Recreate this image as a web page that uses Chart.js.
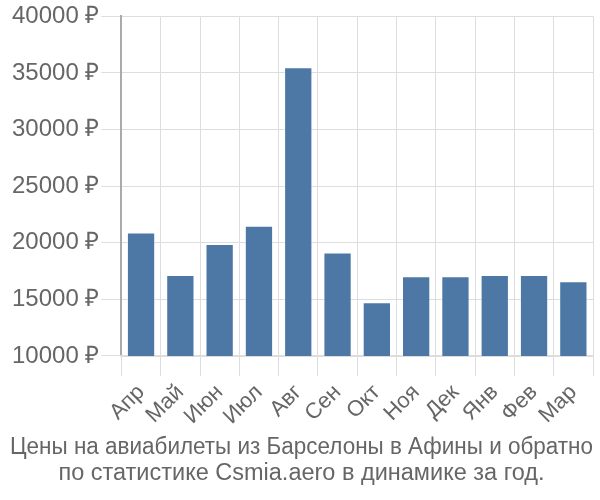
<!DOCTYPE html>
<html>
<head>
<meta charset="utf-8">
<script src="https://cdn.jsdelivr.net/npm/chart.js@4"></script>
<style>
    body { margin: 0; background: #fff; }
    #wrap { width: 600px; height: 500px; }
</style>
</head>
<body>
<div id="wrap"><canvas id="chart"></canvas></div>
<script>
const months = ["Апр", "Май", "Июн", "Июл", "Авг", "Сен", "Окт", "Ноя", "Дек", "Янв", "Фев", "Мар"];
const prices = [20900, 17150, 19900, 21500, 35500, 19150, 14750, 17050, 17050, 17150, 17150, 16600];
const yTicks = [10000, 15000, 20000, 25000, 30000, 35000, 40000];
const titleLines = ["Цены на авиабилеты из Барселоны в Афины и обратно", "по статистике Csmia.aero в динамике за год."];

const textColor = "#666";
const gridColor = "#ddd";
const fontFamily = "'Liberation Sans', Arial, sans-serif";

const ctx = document.getElementById("chart").getContext("2d");
new Chart(ctx, {
    type: "bar",
    data: {
        labels: months,
        datasets: [{
            data: prices,
            backgroundColor: "#4d78a6",
            borderColor: "rgba(255,255,255,0.45)",
            borderWidth: 1
        }]
    },
    options: {
        responsive: true,
        maintainAspectRatio: false,
        animation: false,
        layout: { padding: { top: 5, right: 7, left: 10, bottom: 14 } },
        plugins: {
            legend: { display: false },
            tooltip: { enabled: false },
            title: {
                display: true,
                position: "bottom",
                text: titleLines,
                color: textColor,
                font: { family: fontFamily, size: 23.5, weight: "normal", lineHeight: 1.08 },
                padding: { top: 2, bottom: 0 }
            }
        },
        scales: {
            y: {
                min: yTicks[0],
                max: yTicks[yTicks.length - 1],
                afterBuildTicks: (axis) => { axis.ticks = yTicks.map(v => ({ value: v })); },
                grid: { color: gridColor, tickLength: 20 },
                border: { color: "#aaa", width: 2 },
                ticks: {
                    color: textColor,
                    padding: 2,
                    font: { family: fontFamily, size: 24 },
                    callback: (v) => v + " ₽"
                }
            },
            x: {
                grid: { color: gridColor, tickLength: 20, offset: true },
                border: { color: gridColor, width: 2 },
                ticks: {
                    color: textColor,
                    autoSkip: false,
                    minRotation: 45,
                    maxRotation: 45,
                    padding: 3.5,
                    font: { family: fontFamily, size: 22 }
                }
            }
        }
    }
});
</script>
</body>
</html>
